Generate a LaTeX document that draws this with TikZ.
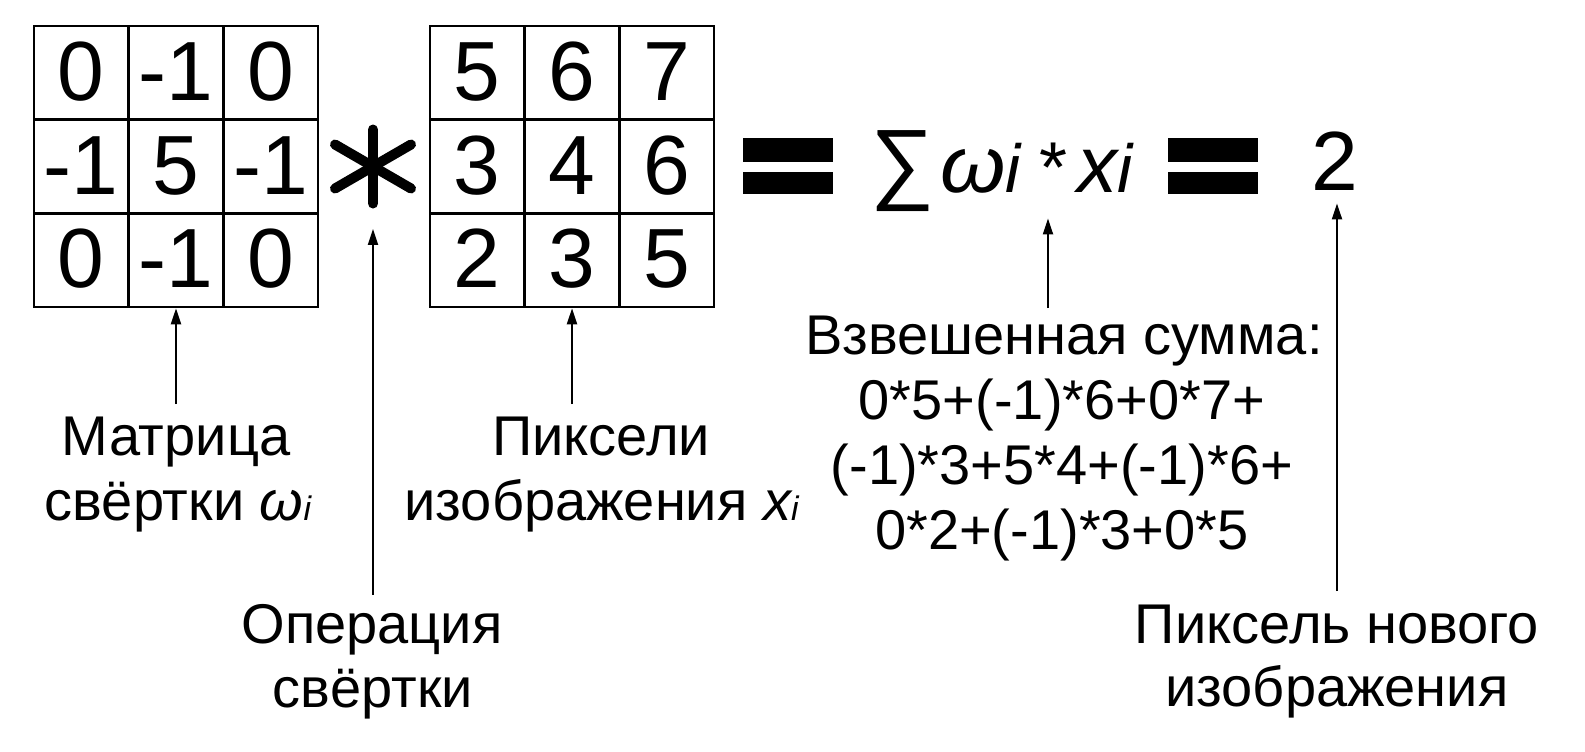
\documentclass[tikz,border=0pt]{standalone}
\usepackage{fontspec}
\usepackage{graphicx}
\setmainfont{Liberation Sans}
\usetikzlibrary{arrows.meta}
\begin{document}
\begin{tikzpicture}[x=0.5pt,y=-0.5pt,
  cell/.style={draw, line width=1.3pt, minimum width=47.3pt, minimum height=46.8pt, inner sep=0pt,
    font=\fontsize{42}{50}\selectfont, text height=30pt, text depth=2.5pt},
  lab/.style={font=\fontsize{28}{34}\selectfont, inner sep=0pt, anchor=base},
  arr/.style={line width=1pt, -{Triangle[length=8pt,width=5pt]}},
  astk/.style={line width=5pt, line cap=round},
  bar/.style={fill=black}]
\useasboundingbox (0,0) rectangle (1585,751);
% kernel matrix
\node[cell] (a11) at (81.3,72.8) {0};
\node[cell] (a12) at (176,72.8) {-1};
\node[cell] (a13) at (270.7,72.8) {0};
\node[cell] (a21) at (81.3,166.5) {-1};
\node[cell] (a22) at (176,166.5) {5};
\node[cell] (a23) at (270.7,166.5) {-1};
\node[cell] (a31) at (81.3,260.2) {0};
\node[cell] (a32) at (176,260.2) {-1};
\node[cell] (a33) at (270.7,260.2) {0};
% image matrix
\node[cell] (b11) at (477.3,72.8) {5};
\node[cell] (b12) at (572,72.8) {6};
\node[cell] (b13) at (666.7,72.8) {7};
\node[cell] (b21) at (477.3,166.5) {3};
\node[cell] (b22) at (572,166.5) {4};
\node[cell] (b23) at (666.7,166.5) {6};
\node[cell] (b31) at (477.3,260.2) {2};
\node[cell] (b32) at (572,260.2) {3};
\node[cell] (b33) at (666.7,260.2) {5};
% convolution asterisk
\node[inner sep=0pt, minimum width=40pt, minimum height=39pt] (ast) at (373,166.5) {};
\draw[astk] (ast.center) +(0,-37) -- +(0,37);
\draw[astk] (ast.center) +(-38,-22) -- +(38,22);
\draw[astk] (ast.center) +(-38,22) -- +(38,-22);
% equals signs
\node[inner sep=0pt, minimum width=45pt, minimum height=28pt] (eq1) at (788,166) {};
\fill[bar] (743,138.3) rectangle (833,161.5);
\fill[bar] (743,171.7) rectangle (833,193.5);
\node[inner sep=0pt, minimum width=45pt, minimum height=28pt] (eq2) at (1213,166) {};
\fill[bar] (1168,138.3) rectangle (1258,161.5);
\fill[bar] (1168,171.7) rectangle (1258,193.5);
% weighted sum formula
\node[anchor=base west, inner sep=0pt, text depth=13pt] (sum) at (870,192)
  {{\fontsize{45}{48}\selectfont ∑}\hspace{3pt}%
   {\itshape\fontsize{40}{44}\selectfont\scalebox{1.05}[1]{ω}}%
   {\itshape\fontsize{34}{36}\selectfont i}\hspace{9pt}%
   {\fontsize{36}{40}\selectfont *}\hspace{5pt}%
   {\itshape\fontsize{40}{44}\selectfont x}%
   {\itshape\fontsize{34}{36}\selectfont i}};
% result
\node[anchor=base, inner sep=0pt, font=\fontsize{42}{50}\selectfont] (two) at (1335,190) {2};
% labels
\node[lab] (l1a) at (176,455) {Матрица};
\node[lab] (l1b) at (178,520) {свёртки \textit{ω\fontsize{17}{20}\selectfont i}};
\node[lab] (l2a) at (372,643) {Операция};
\node[lab] (l2b) at (373,707) {свёртки};
\node[lab] (l3a) at (601,455) {Пиксели};
\node[lab] (l3b) at (602,520) {изображения \textit{x\fontsize{17}{20}\selectfont i}};
\node[lab] (l4a) at (1064,354) {Взвешенная сумма:};
\node[lab] (l4b) at (1062,419) {0*5+(-1)*6+0*7+};
\node[lab] (l4c) at (1062,484) {(-1)*3+5*4+(-1)*6+};
\node[lab] (l4d) at (1062,549) {0*2+(-1)*3+0*5};
\node[lab] (l5a) at (1337,643) {Пиксель нового};
\node[lab] (l5b) at (1337,706) {изображения};
% arrows
\draw[arr, shorten <=6pt] (a32.south |- l1a.north) -- (a32.south);
\draw[arr, shorten <=4.5pt, shorten >=11.5pt] (ast.south |- l2a.north) -- (ast.south);
\draw[arr, shorten <=6pt] (b32.south |- l3a.north) -- (b32.south);
\draw[arr, shorten <=3.5pt] ([xshift=-8pt]l4a.north) -- ([xshift=-8pt]l4a.north |- sum.south);
\draw[arr, shorten <=6.5pt, shorten >=6.5pt] (l5a.north) -- (l5a.north |- two.south);
\end{tikzpicture}
\end{document}
